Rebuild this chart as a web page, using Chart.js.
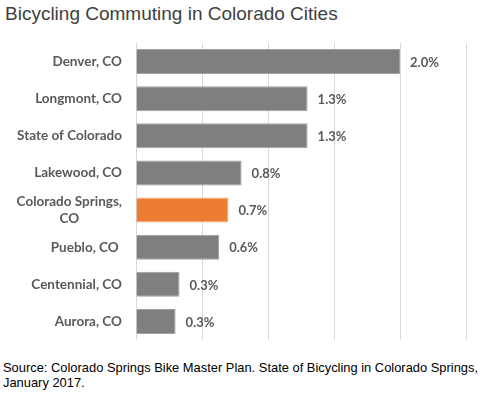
<!DOCTYPE html>
<html>
<head>
<meta charset="utf-8">
<script src="https://cdn.jsdelivr.net/npm/chart.js@4"></script>
<style>
  html, body { margin: 0; padding: 0; background: #fff; }
  body { width: 480px; height: 396px; position: relative; overflow: hidden; }
  #title { position: absolute; left: 5px; top: 3px; font-family: "Liberation Sans", Arial, sans-serif; font-size: 19px; color: #404040; white-space: nowrap; }
  #chartWrap { position: absolute; left: 0; top: 38px; width: 480px; height: 307px; }
  #source { position: absolute; left: 3px; top: 360px; font-family: "Liberation Sans", Arial, sans-serif; font-size: 12.9px; line-height: 15px; color: #000; white-space: nowrap; }
</style>
</head>
<body>
<div id="title">Bicycling Commuting in Colorado Cities</div>
<div id="chartWrap"><canvas id="c"></canvas></div>
<div id="source">Source: Colorado Springs Bike Master Plan. State of Bicycling in Colorado Springs,<br>January 2017.</div>
<script>
const categories = [
  ["Denver, CO"],
  ["Longmont, CO"],
  ["State of Colorado"],
  ["Lakewood, CO"],
  ["Colorado Springs,", "CO"],
  ["Pueblo, CO "],
  ["Centennial, CO"],
  ["Aurora, CO"]
];
const commutePct = [2.0, 1.3, 1.3, 0.8, 0.7, 0.63, 0.33, 0.3];
const barColors = ["#7f7f7f", "#7f7f7f", "#7f7f7f", "#7f7f7f", "#ed7d31", "#7f7f7f", "#7f7f7f", "#7f7f7f"];
const borderColors = ["#a0a0a0", "#a0a0a0", "#a0a0a0", "#a0a0a0", "#f4b183", "#a0a0a0", "#a0a0a0", "#a0a0a0"];
const xTicks = [0, 0.5, 1.0, 1.5, 2.0, 2.5];

const catFont = 'bold 13.5px Lato, "Open Sans", sans-serif';
const valFont = 'bold 13px Lato, "Open Sans", sans-serif';
const labelColor = '#595959';

const labelPlugin = {
  id: 'customLabels',
  afterDatasetsDraw(chart) {
    const ctx = chart.ctx;
    const yScale = chart.scales.y;
    const meta = chart.getDatasetMeta(0);
    ctx.save();
    ctx.fillStyle = labelColor;
    ctx.textBaseline = 'middle';
    // category labels
    ctx.font = catFont;
    const rightEdge = yScale.right - 14;
    chart.data.labels.forEach((lines, i) => {
      const yc = yScale.getPixelForTick(i);
      const widths = lines.map(l => ctx.measureText(l).width);
      const maxW = Math.max(...widths);
      const lh = 17;
      const y0 = yc - (lines.length - 1) * lh / 2;
      lines.forEach((l, k) => {
        ctx.textAlign = 'center';
        ctx.fillText(l, rightEdge - maxW / 2, y0 + k * lh);
      });
    });
    // value labels
    ctx.font = valFont;
    ctx.textAlign = 'left';
    meta.data.forEach((bar, i) => {
      const v = chart.data.datasets[0].data[i];
      ctx.fillText(v.toFixed(1) + '%', bar.x + 10, bar.y + 1);
    });
    ctx.restore();
  }
};

new Chart(document.getElementById('c'), {
  type: 'bar',
  data: {
    labels: categories,
    datasets: [{
      data: commutePct,
      backgroundColor: barColors,
      borderColor: borderColors,
      borderWidth: 1,
      barPercentage: 0.675,
      categoryPercentage: 1.0
    }]
  },
  options: {
    indexAxis: 'y',
    responsive: true,
    maintainAspectRatio: false,
    animation: false,
    layout: { padding: { top: 5, bottom: 5, right: 14, left: 0 } },
    plugins: { legend: { display: false }, tooltip: { enabled: false } },
    scales: {
      x: {
        min: 0, max: 2.5,
        afterBuildTicks(scale) { scale.ticks = xTicks.map(v => ({ value: v })); },
        ticks: { display: false },
        grid: { color: '#d9d9d9', lineWidth: 1, drawTicks: false },
        border: { display: false }
      },
      y: {
        ticks: { display: false },
        grid: { display: false, drawTicks: false },
        border: { display: false },
        afterFit(scale) { scale.width = 136; }
      }
    }
  },
  plugins: [labelPlugin]
});
</script>
</body>
</html>
